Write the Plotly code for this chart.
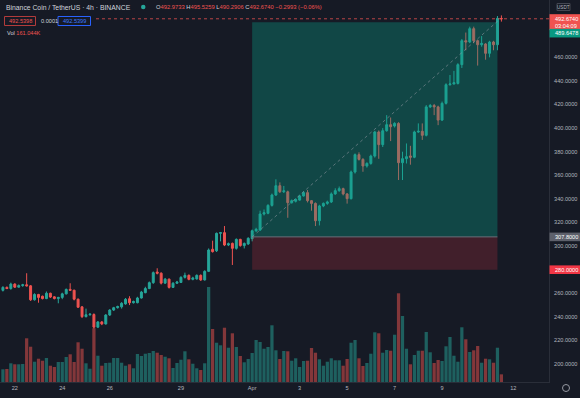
import plotly.graph_objects as go
import pandas as pd

# ---------------- data ----------------
start_time = "2021-03-21 12:00"
n_candles = 127

open_ = [262.5, 265.0, 264.0, 267.8, 265.2, 266.5, 267.2, 266.3, 254.5, 259.0,
         257.5, 255.5, 260.0, 257.0, 255.5, 256.5, 259.5, 263.3, 262.6, 255.0,
         248.5, 240.2, 241.8, 242.0, 231.3, 235.7, 234.0, 241.6, 245.8, 247.8,
         248.5, 251.0, 255.4, 252.0, 252.0, 256.0, 260.5, 264.0, 269.0, 278.0,
         277.0, 268.6, 272.0, 265.0, 268.5, 269.2, 273.5, 275.2, 271.8, 272.2,
         275.2, 271.3, 278.6, 297.3, 296.0, 310.8, 311.4, 300.9, 302.3, 298.1,
         305.7, 300.4, 301.8, 306.3, 313.0, 313.6, 327.2, 327.8, 334.5, 343.3,
         351.2, 346.1, 346.0, 336.8, 338.0, 339.0, 342.5, 345.3, 338.5, 336.2,
         321.5, 334.0, 336.2, 337.4, 344.2, 347.0, 348.7, 344.2, 340.2, 362.8,
         377.5, 373.5, 367.9, 370.1, 376.3, 396.7, 386.0, 397.8, 402.9, 401.8,
         404.0, 370.7, 374.1, 376.4, 375.3, 396.7, 397.3, 393.9, 418.0, 419.2,
         418.0, 406.8, 421.0, 436.8, 437.4, 437.9, 453.8, 474.1, 473.0, 484.3,
         474.1, 470.7, 471.3, 463.4, 473.0, 470.7, 492.9733]

close = [265.0, 264.0, 267.8, 265.2, 266.5, 267.2, 266.3, 254.5, 259.0, 256.5,
         255.5, 260.0, 256.8, 255.5, 256.5, 259.5, 263.3, 262.6, 255.0, 248.2,
         240.2, 241.8, 242.3, 231.3, 235.7, 234.0, 241.6, 245.8, 247.8, 248.8,
         251.5, 254.9, 252.0, 253.0, 256.0, 261.0, 264.0, 269.0, 277.5, 277.0,
         268.6, 272.0, 265.0, 268.5, 269.6, 273.5, 275.2, 271.8, 273.0, 275.2,
         271.3, 278.6, 296.7, 295.3, 310.8, 311.4, 300.9, 302.0, 298.1, 305.7,
         300.4, 302.3, 306.6, 313.0, 314.2, 327.2, 328.3, 334.5, 343.3, 351.2,
         346.1, 346.8, 336.8, 338.5, 339.6, 342.5, 345.3, 338.5, 336.2, 321.5,
         334.0, 336.2, 337.4, 344.2, 347.0, 348.7, 344.2, 340.2, 362.8, 377.5,
         373.5, 367.9, 370.1, 376.3, 396.7, 386.0, 397.8, 402.9, 401.2, 404.0,
         370.7, 374.1, 375.8, 375.3, 396.7, 397.3, 393.9, 418.0, 419.2, 418.0,
         406.8, 421.0, 436.8, 437.4, 438.5, 453.8, 474.1, 473.0, 484.3, 474.1,
         470.7, 471.8, 463.4, 473.0, 470.7, 492.97, 492.674]

high = [266.0, 265.8, 269.0, 268.5, 267.5, 268.0, 277.0, 267.0, 260.0, 259.5,
        258.0, 261.5, 260.5, 257.5, 257.0, 260.5, 264.0, 268.5, 263.0, 255.5,
        249.0, 247.0, 243.0, 243.0, 236.5, 236.5, 242.3, 246.5, 248.5, 249.5,
        252.5, 256.0, 257.5, 253.8, 257.0, 262.0, 265.5, 270.0, 278.5, 281.2,
        277.8, 273.0, 272.5, 269.5, 270.5, 274.5, 277.5, 276.0, 274.0, 276.0,
        276.0, 279.5, 298.0, 304.6, 311.5, 312.0, 317.0, 303.0, 303.0, 306.5,
        306.2, 303.0, 307.5, 314.0, 315.5, 330.0, 331.0, 335.5, 344.5, 356.6,
        354.0, 351.0, 347.0, 339.5, 340.5, 343.5, 346.5, 347.5, 339.0, 337.0,
        335.0, 337.0, 338.5, 345.5, 349.0, 350.5, 349.5, 345.0, 364.0, 378.5,
        379.5, 374.5, 371.0, 377.5, 397.7, 398.0, 400.0, 411.0, 409.0, 405.0,
        405.0, 380.0, 387.0, 385.0, 397.8, 404.0, 404.0, 419.5, 420.5, 420.5,
        419.0, 422.5, 438.0, 445.0, 448.5, 455.0, 475.5, 481.0, 486.0, 486.0,
        475.0, 478.0, 472.0, 474.0, 474.0, 495.0, 495.5259]

low = [261.5, 263.5, 263.0, 264.5, 264.8, 265.5, 265.8, 253.5, 253.8, 252.0,
       254.8, 255.0, 256.0, 254.8, 251.5, 255.0, 259.0, 262.0, 254.0, 247.5,
       239.0, 239.5, 241.0, 230.0, 230.5, 233.0, 233.5, 240.8, 245.0, 247.0,
       247.0, 250.3, 250.0, 251.3, 251.5, 255.5, 260.0, 263.5, 268.0, 276.0,
       267.5, 268.0, 264.0, 264.5, 268.0, 268.7, 272.5, 271.0, 271.0, 271.5,
       270.5, 270.8, 278.0, 294.5, 295.0, 304.0, 300.0, 300.0, 284.0, 297.0,
       299.5, 298.0, 301.0, 304.0, 312.0, 312.8, 326.0, 327.0, 333.5, 342.5,
       345.0, 345.0, 324.0, 336.0, 337.0, 338.5, 342.0, 337.0, 330.0, 317.0,
       317.5, 333.0, 335.0, 336.5, 343.5, 346.0, 343.0, 336.0, 339.5, 361.5,
       372.5, 363.0, 366.5, 369.0, 375.0, 374.0, 384.0, 397.0, 389.0, 400.5,
       356.0, 356.0, 370.0, 369.0, 374.5, 396.0, 390.0, 393.0, 417.0, 411.0,
       402.5, 406.0, 420.0, 436.0, 437.0, 437.0, 451.0, 466.0, 472.0, 472.0,
       453.0, 469.0, 458.0, 460.0, 466.0, 466.0, 490.2906]

volume_k = [267, 273, 393, 372, 372, 378, 918, 741, 426, 489,
            447, 504, 342, 315, 420, 420, 525, 582, 420, 834,
            699, 393, 279, 1128, 552, 342, 399, 405, 504, 504,
            405, 342, 372, 288, 588, 546, 594, 609, 651, 615,
            567, 531, 498, 294, 399, 468, 645, 477, 384, 288,
            252, 393, 1995, 1113, 825, 771, 1140, 720, 1023, 735,
            546, 414, 483, 609, 882, 840, 699, 735, 1191, 666,
            483, 651, 645, 447, 498, 315, 441, 447, 714, 615,
            477, 342, 426, 498, 456, 456, 342, 483, 825, 882,
            498, 336, 399, 594, 1044, 1023, 615, 672, 657, 993,
            1863, 1386, 699, 372, 567, 657, 657, 1050, 624, 399,
            462, 441, 750, 945, 552, 426, 1149, 897, 630, 666,
            756, 405, 489, 477, 405, 720, 161.044]

x_tick_dates = ["2021-03-22", "2021-03-24", "2021-03-26", "2021-03-29", "2021-04-01",
                "2021-04-03", "2021-04-05", "2021-04-07", "2021-04-09", "2021-04-12"]
x_tick_text = ["22", "24", "26", "29", "Apr", "3", "5", "7", "9", "12"]
y_tick_vals = [200, 220, 240, 260, 280, 300, 320, 340, 360, 380, 400, 420, 440, 460]

entry_price = 307.8
target_price = 489.6478
stop_price = 280.0
last_price = 492.674
position_start = "2021-04-01 00:00"
position_end = "2021-04-11 08:00"
diag_end_price = 490.5

# ---------------- style ----------------
BG = "#161a25"
UP = "#26a69a"
DOWN = "#ef5350"
TXT = "#d1d4dc"
AX = "#b2b5be"
FONT = "Liberation Sans"

W, H = 580, 398
ML, MR, MT, MB = 0, 31, 0, 16
PW, PH = W - ML - MR, H - MT - MB
Y_MIN, Y_MAX = 184.8, 508.6
X_RANGE = ["2021-03-21 09:03", "2021-04-13 12:07"]

times = pd.date_range(start_time, periods=n_candles, freq="4h")
vol_colors = ["rgba(38,166,154,0.5)" if c >= o else "rgba(239,83,80,0.5)"
              for o, c in zip(open_, close)]

fig = go.Figure()
fig.add_trace(go.Bar(
    x=times, y=volume_k, marker=dict(color=vol_colors, line=dict(width=0)),
    width=0.82 * 4 * 3600 * 1000, yaxis="y2", hoverinfo="skip", showlegend=False))
fig.add_trace(go.Candlestick(
    x=times, open=open_, high=high, low=low, close=close,
    increasing=dict(line=dict(color=UP, width=1), fillcolor=UP),
    decreasing=dict(line=dict(color=DOWN, width=1), fillcolor=DOWN),
    showlegend=False))


def py(v):
    """price -> paper y"""
    return (v - Y_MIN) / (Y_MAX - Y_MIN)


def px_to_paper_y(p):
    return p / PH


def px_to_paper_x(p):
    return p / PW


shapes = []
# position boxes (drawn above candles, translucent)
shapes.append(dict(type="rect", xref="x", yref="y", x0=position_start, x1=position_end,
                   y0=entry_price, y1=target_price, fillcolor="rgba(8,153,129,0.36)",
                   line=dict(width=0), layer="above"))
shapes.append(dict(type="rect", xref="x", yref="y", x0=position_start, x1=position_end,
                   y0=stop_price, y1=entry_price, fillcolor="rgba(242,54,69,0.2)",
                   line=dict(width=0), layer="above"))
shapes.append(dict(type="line", xref="x", yref="y", x0=position_start, x1=position_end,
                   y0=entry_price, y1=entry_price, line=dict(color="#6a6d78", width=1),
                   layer="above"))
shapes.append(dict(type="line", xref="x", yref="y", x0=position_start, x1=position_end,
                   y0=entry_price, y1=diag_end_price,
                   line=dict(color="rgba(150,155,165,0.55)", width=1, dash="dot"),
                   layer="above"))
# current price line
shapes.append(dict(type="line", xref="paper", yref="y", x0=0, x1=1,
                   y0=last_price, y1=last_price,
                   line=dict(color="rgba(239,83,80,0.75)", width=1, dash="dot"),
                   layer="above"))
# header backdrop for row 2
shapes.append(dict(type="rect", xref="paper", yref="paper",
                   x0=0, x1=px_to_paper_x(93),
                   y0=1 - px_to_paper_y(27), y1=1 - px_to_paper_y(14),
                   fillcolor=BG, line=dict(width=0), layer="above"))
# row-2 bordered boxes
shapes.append(dict(type="rect", xref="paper", yref="paper",
                   x0=px_to_paper_x(4.5), x1=px_to_paper_x(35.5),
                   y0=1 - px_to_paper_y(25.5), y1=1 - px_to_paper_y(16.5),
                   fillcolor=BG, line=dict(color="#b23b3b", width=1), layer="above"))
shapes.append(dict(type="rect", xref="paper", yref="paper",
                   x0=px_to_paper_x(58), x1=px_to_paper_x(90.5),
                   y0=1 - px_to_paper_y(25.5), y1=1 - px_to_paper_y(16.5),
                   fillcolor=BG, line=dict(color="#2962ff", width=1), layer="above"))
# green status dot
shapes.append(dict(type="circle", xref="paper", yref="paper",
                   x0=px_to_paper_x(141), x1=px_to_paper_x(145.5),
                   y0=1 - px_to_paper_y(9.3), y1=1 - px_to_paper_y(4.8),
                   fillcolor=UP, line=dict(width=0), layer="above"))

# price-axis labels
ax_x0 = 1 + px_to_paper_x(0.5)
ax_x1 = 1 + px_to_paper_x(MR)


def axis_label(price, color, up_px=4.3, down_px=4.3, shift_px=0.0):
    c = py(price) - px_to_paper_y(shift_px)
    shapes.append(dict(type="rect", xref="paper", yref="paper", x0=ax_x0, x1=ax_x1,
                       y0=c - px_to_paper_y(down_px), y1=c + px_to_paper_y(up_px),
                       fillcolor=color, line=dict(width=0), layer="above"))
    return c


annotations = []


def ax_text(y, text):
    annotations.append(dict(xref="paper", yref="paper", x=1 + px_to_paper_x(4), y=y,
                            xanchor="left", yanchor="middle", showarrow=False,
                            text=text, font=dict(size=5.6, color="white", family=FONT)))


c_last = axis_label(last_price, "#f05350", up_px=4.6, down_px=11.4)
ax_text(c_last, f"{last_price:.4f}")
ax_text(c_last - px_to_paper_y(7.2), "03:04:09")
c_tp = axis_label(target_price, "#089981", shift_px=10.8)
ax_text(c_tp, f"{target_price:.4f}")
c_en = axis_label(entry_price, "#5d606b")
ax_text(c_en, f"{entry_price:.4f}")
c_sl = axis_label(stop_price, "#f23645")
ax_text(c_sl, f"{stop_price:.4f}")

# USDT unit box
shapes.append(dict(type="rect", xref="paper", yref="paper",
                   x0=1 + px_to_paper_x(8), x1=1 + px_to_paper_x(21),
                   y0=1 - px_to_paper_y(10.5), y1=1 - px_to_paper_y(3.5),
                   fillcolor=BG, line=dict(color="#434651", width=1), layer="above"))
annotations.append(dict(xref="paper", yref="paper", x=1 + px_to_paper_x(14.5),
                        y=1 - px_to_paper_y(7), xanchor="center", yanchor="middle",
                        showarrow=False, text="USDT",
                        font=dict(size=4.6, color=AX, family=FONT)))
# bottom-right settings circle
shapes.append(dict(type="circle", xref="paper", yref="paper",
                   x0=1 + px_to_paper_x(13.5), x1=1 + px_to_paper_x(20.5),
                   y0=-px_to_paper_y(9.5), y1=-px_to_paper_y(2.5),
                   line=dict(color="#9598a1", width=1), layer="above"))


# header texts
def hdr(xpx, ypx, text, size=5.6, color=TXT):
    annotations.append(dict(xref="paper", yref="paper", x=px_to_paper_x(xpx),
                            y=1 - px_to_paper_y(ypx), xanchor="left", yanchor="middle",
                            showarrow=False, text=text,
                            font=dict(size=size, color=color, family=FONT)))


hdr(3.5, 7.3, "Binance Coin / TetherUS · 4h · BINANCE", size=6.8)
R = DOWN
ohlc = (f"O<span style='color:{R}'>492.9733</span> "
        f"H<span style='color:{R}'>495.5259</span> "
        f"L<span style='color:{R}'>490.2906</span> "
        f"C<span style='color:{R}'>492.6740</span> "
        f"<span style='color:{R}'>−0.2993 (−0.06%)</span>")
hdr(154, 7.3, ohlc, size=5.8)
hdr(6.5, 21, "492.5398", size=5.6, color=DOWN)
hdr(38.5, 21, "0.0001", size=5.6, color=TXT)
hdr(61, 21, "492.5399", size=5.6, color="#3d7bff")
hdr(4.5, 33.2, f"Vol <span style='color:{R}'>161.044K</span>", size=5.6, color=TXT)

fig.update_layout(
    width=W, height=H,
    margin=dict(l=ML, r=MR, t=MT, b=MB, pad=0, autoexpand=False),
    paper_bgcolor=BG, plot_bgcolor=BG,
    showlegend=False,
    bargap=0.15,
    font=dict(family=FONT, color=AX, size=5.6),
    xaxis=dict(type="date", range=X_RANGE, rangeslider=dict(visible=False),
               tickvals=x_tick_dates, ticktext=x_tick_text,
               tickfont=dict(size=5.6, color=AX, family=FONT),
               showgrid=False, zeroline=False, showline=True, linecolor="#2a2e39",
               linewidth=1, ticks="", automargin=False, fixedrange=True),
    yaxis=dict(side="right", range=[Y_MIN, Y_MAX], tickvals=y_tick_vals,
               ticktext=[f"{v:.4f}" for v in y_tick_vals],
               tickfont=dict(size=5.6, color=AX, family=FONT),
               showgrid=False, zeroline=False, showline=True, linecolor="#2a2e39",
               linewidth=1, ticks="", ticklabelstandoff=3, automargin=False),
    yaxis2=dict(overlaying="y", range=[0, PH * 21], visible=False),
    shapes=shapes,
    annotations=annotations,
)

fig.write_html(
    "out.html",
    config={"displayModeBar": False},
    post_script="document.body.style.margin='0';document.body.style.background='#161a25';",
)
